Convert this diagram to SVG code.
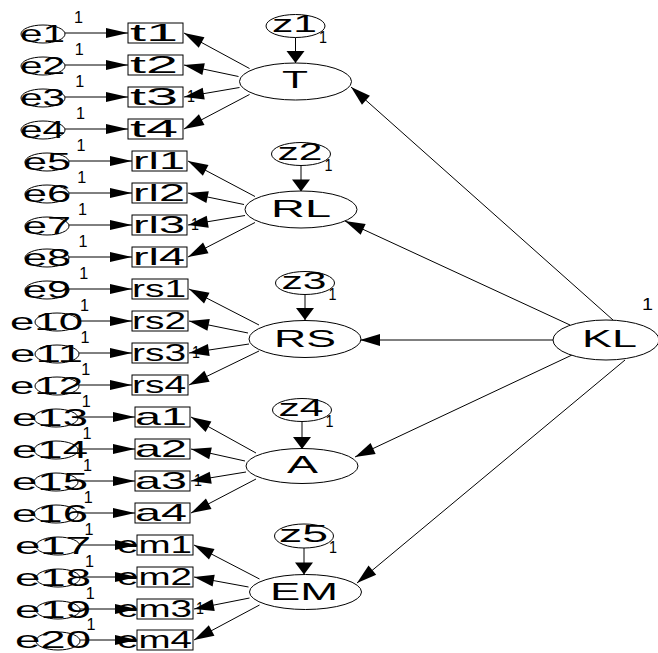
<svg xmlns="http://www.w3.org/2000/svg" width="658" height="653" viewBox="0 0 658 653">
<defs>
<style>
.lbl{font-family:"Liberation Sans",Arial,sans-serif;font-size:24px;fill:#000}
.one{font-family:"Liberation Sans",Arial,sans-serif;font-size:16px;fill:#000}
.el{fill:#fff;stroke:#000;stroke-width:1}
.bx{fill:#fff;stroke:#000;stroke-width:1}
.ld{stroke:#000;stroke-width:1;fill:none;marker-end:url(#ah)}
.le{stroke:#000;stroke-width:1;fill:none;marker-end:url(#ahe)}
.lz{stroke:#000;stroke-width:1;fill:none;marker-end:url(#ahz)}
</style>
<marker id="ah" markerUnits="userSpaceOnUse" markerWidth="22" markerHeight="14" refX="20" refY="6" orient="auto" overflow="visible"><path d="M0,0 L20,6 L0,12 Z" fill="#000"/></marker>
<marker id="ahe" markerUnits="userSpaceOnUse" markerWidth="24" markerHeight="12" refX="22" refY="5" orient="auto" overflow="visible"><path d="M0,0 L22,5 L0,10 Z" fill="#000"/></marker>
<marker id="ahz" markerUnits="userSpaceOnUse" markerWidth="14" markerHeight="20" refX="12" refY="9" orient="auto" overflow="visible"><path d="M0,0 L12,9 L0,18 Z" fill="#000"/></marker>
</defs>
<rect width="658" height="653" fill="#fff"/>

<!-- connectors -->
<g id="connectors">
<!-- error terms to indicators -->
<line class="le" x1="65" y1="33" x2="128" y2="33"/>
<line class="le" x1="65" y1="65" x2="128" y2="65"/>
<line class="le" x1="65" y1="97" x2="128" y2="97"/>
<line class="le" x1="65" y1="129" x2="128" y2="129"/>
<line class="le" x1="69" y1="161" x2="132" y2="161"/>
<line class="le" x1="69" y1="193" x2="132" y2="193"/>
<line class="le" x1="69" y1="225" x2="132" y2="225"/>
<line class="le" x1="69" y1="257" x2="132" y2="257"/>
<line class="le" x1="69" y1="289" x2="132" y2="289"/>
<line class="le" x1="79" y1="321" x2="132" y2="321"/>
<line class="le" x1="79" y1="353" x2="132" y2="353"/>
<line class="le" x1="79" y1="385" x2="132" y2="385"/>
<line class="le" x1="78" y1="417" x2="135" y2="417"/>
<line class="le" x1="78" y1="449" x2="135" y2="449"/>
<line class="le" x1="78" y1="481" x2="135" y2="481"/>
<line class="le" x1="78" y1="513" x2="135" y2="513"/>
<line class="le" x1="80" y1="545" x2="137" y2="545"/>
<line class="le" x1="80" y1="577" x2="137" y2="577"/>
<line class="le" x1="80" y1="609" x2="137" y2="609"/>
<line class="le" x1="80" y1="640" x2="137" y2="640"/>
<!-- loadings -->
<line class="ld" x1="249.5" y1="68.5" x2="184" y2="33"/>
<line class="ld" x1="238.5" y1="76.5" x2="184" y2="65"/>
<line class="ld" x1="239.5" y1="87.5" x2="184" y2="97"/>
<line class="ld" x1="249.5" y1="94.5" x2="184" y2="129"/>
<line class="ld" x1="255" y1="196.5" x2="188" y2="161"/>
<line class="ld" x1="244" y1="204.5" x2="188" y2="193"/>
<line class="ld" x1="245" y1="215.5" x2="188" y2="225"/>
<line class="ld" x1="255" y1="222.5" x2="188" y2="257"/>
<line class="ld" x1="259" y1="325" x2="189" y2="289"/>
<line class="ld" x1="248" y1="333" x2="189" y2="321"/>
<line class="ld" x1="249" y1="344" x2="189" y2="353"/>
<line class="ld" x1="259" y1="351" x2="189" y2="385"/>
<line class="ld" x1="256" y1="453" x2="191" y2="417"/>
<line class="ld" x1="245" y1="461" x2="191" y2="449"/>
<line class="ld" x1="246" y1="472" x2="191" y2="481"/>
<line class="ld" x1="256" y1="479" x2="191" y2="513"/>
<line class="ld" x1="259.5" y1="579" x2="194" y2="545"/>
<line class="ld" x1="248.5" y1="587" x2="194" y2="577"/>
<line class="ld" x1="249.5" y1="598" x2="194" y2="609"/>
<line class="ld" x1="259.5" y1="605" x2="194" y2="640"/>
<!-- disturbances -->
<line class="lz" x1="295.5" y1="37.5" x2="295.5" y2="63"/>
<line class="lz" x1="301" y1="165.5" x2="301" y2="191.5"/>
<line class="lz" x1="305" y1="294.5" x2="305" y2="320"/>
<line class="lz" x1="302" y1="421.5" x2="302" y2="449"/>
<line class="lz" x1="304" y1="548" x2="304" y2="574.5"/>
<!-- structural paths from KL -->
<line class="ld" x1="613" y1="320" x2="351" y2="87"/>
<line class="ld" x1="570" y1="325" x2="345" y2="221"/>
<line class="ld" x1="553" y1="340" x2="360" y2="340"/>
<line class="ld" x1="572" y1="355" x2="355" y2="457"/>
<line class="ld" x1="625" y1="360" x2="357" y2="583"/>
</g>

<!-- error terms -->
<g id="e1"><ellipse class="el" cx="43" cy="34" rx="22" ry="9"/><text class="lbl" x="20" y="42" textLength="45" lengthAdjust="spacingAndGlyphs">e1</text><text class="one" x="74" y="23" textLength="9" lengthAdjust="spacingAndGlyphs">1</text></g>
<g id="e2"><ellipse class="el" cx="43" cy="66" rx="22" ry="9"/><text class="lbl" x="20" y="74" textLength="45" lengthAdjust="spacingAndGlyphs">e2</text><text class="one" x="74.7" y="55" textLength="9" lengthAdjust="spacingAndGlyphs">1</text></g>
<g id="e3"><ellipse class="el" cx="43" cy="98" rx="22" ry="9"/><text class="lbl" x="20" y="106" textLength="45" lengthAdjust="spacingAndGlyphs">e3</text><text class="one" x="75.3" y="87" textLength="9" lengthAdjust="spacingAndGlyphs">1</text></g>
<g id="e4"><ellipse class="el" cx="43" cy="130" rx="22" ry="9"/><text class="lbl" x="20" y="138" textLength="45" lengthAdjust="spacingAndGlyphs">e4</text><text class="one" x="76" y="119" textLength="9" lengthAdjust="spacingAndGlyphs">1</text></g>
<g id="e5"><ellipse class="el" cx="47" cy="162" rx="22" ry="9"/><text class="lbl" x="23" y="170" textLength="48" lengthAdjust="spacingAndGlyphs">e5</text><text class="one" x="76.6" y="151" textLength="9" lengthAdjust="spacingAndGlyphs">1</text></g>
<g id="e6"><ellipse class="el" cx="47" cy="194" rx="22" ry="9"/><text class="lbl" x="23" y="202" textLength="48" lengthAdjust="spacingAndGlyphs">e6</text><text class="one" x="77.3" y="183" textLength="9" lengthAdjust="spacingAndGlyphs">1</text></g>
<g id="e7"><ellipse class="el" cx="47" cy="226" rx="22" ry="9"/><text class="lbl" x="23" y="234" textLength="48" lengthAdjust="spacingAndGlyphs">e7</text><text class="one" x="77.9" y="215" textLength="9" lengthAdjust="spacingAndGlyphs">1</text></g>
<g id="e8"><ellipse class="el" cx="47" cy="258" rx="22" ry="9"/><text class="lbl" x="23" y="266" textLength="48" lengthAdjust="spacingAndGlyphs">e8</text><text class="one" x="78.6" y="247" textLength="9" lengthAdjust="spacingAndGlyphs">1</text></g>
<g id="e9"><ellipse class="el" cx="47" cy="290" rx="22" ry="9"/><text class="lbl" x="23" y="298" textLength="48" lengthAdjust="spacingAndGlyphs">e9</text><text class="one" x="79.2" y="279" textLength="9" lengthAdjust="spacingAndGlyphs">1</text></g>
<g id="e10"><ellipse class="el" cx="57" cy="322" rx="22" ry="9"/><text class="lbl" x="10" y="330" textLength="73" lengthAdjust="spacingAndGlyphs">e10</text><text class="one" x="79.9" y="311" textLength="9" lengthAdjust="spacingAndGlyphs">1</text></g>
<g id="e11"><ellipse class="el" cx="57" cy="354" rx="22" ry="9"/><text class="lbl" x="10" y="362" textLength="73" lengthAdjust="spacingAndGlyphs">e11</text><text class="one" x="80.5" y="343" textLength="9" lengthAdjust="spacingAndGlyphs">1</text></g>
<g id="e12"><ellipse class="el" cx="57" cy="386" rx="22" ry="9"/><text class="lbl" x="10" y="394" textLength="73" lengthAdjust="spacingAndGlyphs">e12</text><text class="one" x="81.2" y="375" textLength="9" lengthAdjust="spacingAndGlyphs">1</text></g>
<g id="e13"><ellipse class="el" cx="56" cy="418" rx="22" ry="9"/><text class="lbl" x="12" y="426" textLength="76" lengthAdjust="spacingAndGlyphs">e13</text><text class="one" x="81.8" y="407" textLength="9" lengthAdjust="spacingAndGlyphs">1</text></g>
<g id="e14"><ellipse class="el" cx="56" cy="450" rx="22" ry="9"/><text class="lbl" x="12" y="458" textLength="76" lengthAdjust="spacingAndGlyphs">e14</text><text class="one" x="82.5" y="439" textLength="9" lengthAdjust="spacingAndGlyphs">1</text></g>
<g id="e15"><ellipse class="el" cx="56" cy="482" rx="22" ry="9"/><text class="lbl" x="12" y="490" textLength="76" lengthAdjust="spacingAndGlyphs">e15</text><text class="one" x="83.1" y="471" textLength="9" lengthAdjust="spacingAndGlyphs">1</text></g>
<g id="e16"><ellipse class="el" cx="56" cy="514" rx="22" ry="9"/><text class="lbl" x="12" y="522" textLength="76" lengthAdjust="spacingAndGlyphs">e16</text><text class="one" x="83.8" y="503" textLength="9" lengthAdjust="spacingAndGlyphs">1</text></g>
<g id="e17"><ellipse class="el" cx="58" cy="546" rx="22" ry="9"/><text class="lbl" x="15" y="554" textLength="76" lengthAdjust="spacingAndGlyphs">e17</text><text class="one" x="84.4" y="535" textLength="9" lengthAdjust="spacingAndGlyphs">1</text></g>
<g id="e18"><ellipse class="el" cx="58" cy="578" rx="22" ry="9"/><text class="lbl" x="15" y="586" textLength="76" lengthAdjust="spacingAndGlyphs">e18</text><text class="one" x="85.1" y="567" textLength="9" lengthAdjust="spacingAndGlyphs">1</text></g>
<g id="e19"><ellipse class="el" cx="58" cy="610" rx="22" ry="9"/><text class="lbl" x="15" y="618" textLength="76" lengthAdjust="spacingAndGlyphs">e19</text><text class="one" x="85.7" y="599" textLength="9" lengthAdjust="spacingAndGlyphs">1</text></g>
<g id="e20"><ellipse class="el" cx="58" cy="641" rx="22" ry="9"/><text class="lbl" x="15" y="648" textLength="76" lengthAdjust="spacingAndGlyphs">e20</text><text class="one" x="86.4" y="630" textLength="9" lengthAdjust="spacingAndGlyphs">1</text></g>

<!-- indicators -->
<g id="t1"><rect class="bx" x="128" y="23" width="55" height="20"/><text class="lbl" x="130" y="41" textLength="48" lengthAdjust="spacingAndGlyphs">t1</text></g>
<g id="t2"><rect class="bx" x="128" y="55" width="55" height="20"/><text class="lbl" x="130" y="73" textLength="48" lengthAdjust="spacingAndGlyphs">t2</text></g>
<g id="t3"><rect class="bx" x="128" y="87" width="55" height="20"/><text class="lbl" x="130" y="105" textLength="48" lengthAdjust="spacingAndGlyphs">t3</text><text class="one" x="187" y="102" textLength="8" lengthAdjust="spacingAndGlyphs">1</text></g>
<g id="t4"><rect class="bx" x="128" y="119" width="55" height="20"/><text class="lbl" x="130" y="137" textLength="48" lengthAdjust="spacingAndGlyphs">t4</text></g>
<g id="rl1"><rect class="bx" x="132" y="151" width="55" height="20"/><text class="lbl" x="133" y="169" textLength="52" lengthAdjust="spacingAndGlyphs">rl1</text></g>
<g id="rl2"><rect class="bx" x="132" y="183" width="55" height="20"/><text class="lbl" x="133" y="201" textLength="52" lengthAdjust="spacingAndGlyphs">rl2</text></g>
<g id="rl3"><rect class="bx" x="132" y="215" width="55" height="20"/><text class="lbl" x="133" y="233" textLength="52" lengthAdjust="spacingAndGlyphs">rl3</text><text class="one" x="191" y="230" textLength="8" lengthAdjust="spacingAndGlyphs">1</text></g>
<g id="rl4"><rect class="bx" x="132" y="247" width="55" height="20"/><text class="lbl" x="133" y="265" textLength="52" lengthAdjust="spacingAndGlyphs">rl4</text></g>
<g id="rs1"><rect class="bx" x="132" y="279" width="56" height="20"/><text class="lbl" x="132" y="297" textLength="54" lengthAdjust="spacingAndGlyphs">rs1</text></g>
<g id="rs2"><rect class="bx" x="132" y="311" width="56" height="20"/><text class="lbl" x="132" y="329" textLength="54" lengthAdjust="spacingAndGlyphs">rs2</text></g>
<g id="rs3"><rect class="bx" x="132" y="343" width="56" height="20"/><text class="lbl" x="132" y="361" textLength="54" lengthAdjust="spacingAndGlyphs">rs3</text><text class="one" x="192" y="358" textLength="8" lengthAdjust="spacingAndGlyphs">1</text></g>
<g id="rs4"><rect class="bx" x="132" y="375" width="56" height="20"/><text class="lbl" x="132" y="393" textLength="54" lengthAdjust="spacingAndGlyphs">rs4</text></g>
<g id="a1"><rect class="bx" x="135" y="407" width="55" height="20"/><text class="lbl" x="135" y="425" textLength="52" lengthAdjust="spacingAndGlyphs">a1</text></g>
<g id="a2"><rect class="bx" x="135" y="439" width="55" height="20"/><text class="lbl" x="135" y="457" textLength="52" lengthAdjust="spacingAndGlyphs">a2</text></g>
<g id="a3"><rect class="bx" x="135" y="471" width="55" height="20"/><text class="lbl" x="135" y="489" textLength="52" lengthAdjust="spacingAndGlyphs">a3</text><text class="one" x="194" y="486" textLength="8" lengthAdjust="spacingAndGlyphs">1</text></g>
<g id="a4"><rect class="bx" x="135" y="503" width="55" height="20"/><text class="lbl" x="135" y="521" textLength="52" lengthAdjust="spacingAndGlyphs">a4</text></g>
<g id="em1"><rect class="bx" x="137" y="535" width="56" height="20"/><text class="lbl" x="117" y="553" textLength="75" lengthAdjust="spacingAndGlyphs">em1</text></g>
<g id="em2"><rect class="bx" x="137" y="567" width="56" height="20"/><text class="lbl" x="117" y="585" textLength="75" lengthAdjust="spacingAndGlyphs">em2</text></g>
<g id="em3"><rect class="bx" x="137" y="599" width="56" height="20"/><text class="lbl" x="117" y="617" textLength="75" lengthAdjust="spacingAndGlyphs">em3</text><text class="one" x="196" y="614" textLength="8" lengthAdjust="spacingAndGlyphs">1</text></g>
<g id="em4"><rect class="bx" x="137" y="630" width="56" height="20"/><text class="lbl" x="117" y="648" textLength="75" lengthAdjust="spacingAndGlyphs">em4</text></g>

<!-- disturbance terms -->
<g id="z1"><ellipse class="el" cx="295.5" cy="26" rx="29.5" ry="11.5"/><text class="lbl" x="272" y="32" textLength="45" lengthAdjust="spacingAndGlyphs">z1</text><text class="one" x="319" y="43" textLength="8" lengthAdjust="spacingAndGlyphs">1</text></g>
<g id="z2"><ellipse class="el" cx="301" cy="154" rx="29.5" ry="11.5"/><text class="lbl" x="277.5" y="160" textLength="45" lengthAdjust="spacingAndGlyphs">z2</text><text class="one" x="324.5" y="171" textLength="8" lengthAdjust="spacingAndGlyphs">1</text></g>
<g id="z3"><ellipse class="el" cx="305" cy="283" rx="29.5" ry="11.5"/><text class="lbl" x="281.5" y="289" textLength="45" lengthAdjust="spacingAndGlyphs">z3</text><text class="one" x="328.5" y="300" textLength="8" lengthAdjust="spacingAndGlyphs">1</text></g>
<g id="z4"><ellipse class="el" cx="302" cy="410" rx="29.5" ry="11.5"/><text class="lbl" x="278.5" y="416" textLength="45" lengthAdjust="spacingAndGlyphs">z4</text><text class="one" x="325.5" y="427" textLength="8" lengthAdjust="spacingAndGlyphs">1</text></g>
<g id="z5"><ellipse class="el" cx="304" cy="536" rx="29.5" ry="12"/><text class="lbl" x="279" y="542" textLength="49" lengthAdjust="spacingAndGlyphs">z5</text><text class="one" x="329" y="553" textLength="8" lengthAdjust="spacingAndGlyphs">1</text></g>

<!-- latent factors -->
<g id="T"><ellipse class="el" cx="295.5" cy="81.5" rx="56" ry="18.5"/><text class="lbl" x="282" y="88" textLength="26" lengthAdjust="spacingAndGlyphs">T</text></g>
<g id="RL"><ellipse class="el" cx="301" cy="209.5" rx="56" ry="18.5"/><text class="lbl" x="271" y="217" textLength="60" lengthAdjust="spacingAndGlyphs">RL</text></g>
<g id="RS"><ellipse class="el" cx="305" cy="339" rx="56" ry="18.5"/><text class="lbl" x="274" y="347" textLength="62" lengthAdjust="spacingAndGlyphs">RS</text></g>
<g id="A"><ellipse class="el" cx="302" cy="466" rx="56" ry="17.5"/><text class="lbl" x="287" y="473" textLength="31" lengthAdjust="spacingAndGlyphs">A</text></g>
<g id="EM"><ellipse class="el" cx="305.5" cy="592" rx="56" ry="17.5"/><text class="lbl" x="270" y="600" textLength="68" lengthAdjust="spacingAndGlyphs">EM</text></g>
<g id="KL"><ellipse class="el" cx="606" cy="340" rx="53" ry="20"/><text class="lbl" x="582" y="347" textLength="55" lengthAdjust="spacingAndGlyphs">KL</text><text class="one" x="642" y="310" textLength="11" lengthAdjust="spacingAndGlyphs">1</text></g>
</svg>
